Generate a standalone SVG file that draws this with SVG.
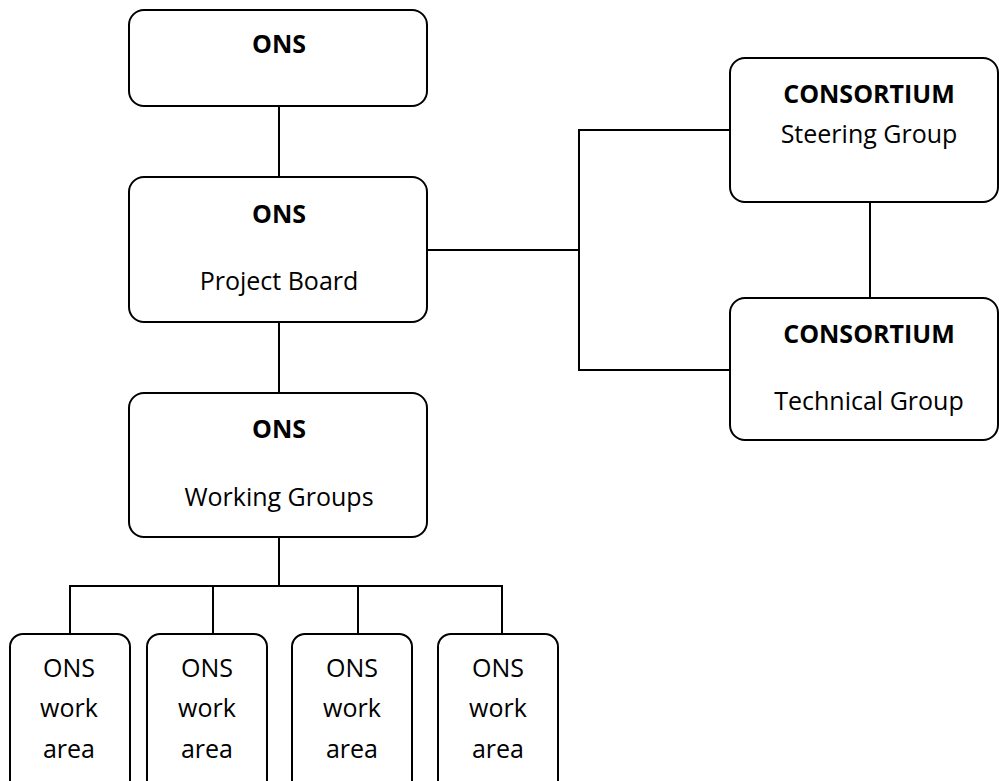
<svg xmlns="http://www.w3.org/2000/svg" width="999" height="781" viewBox="0 0 999 781">
<style>
.box{fill:#fff;stroke:#000;stroke-width:2}
.ln{fill:none;stroke:#000;stroke-width:2}
text{font-family:"Open Sans","Liberation Sans",sans-serif;font-size:25px;fill:#000;text-anchor:middle}
.b{font-weight:bold}
</style>
<rect width="999" height="781" fill="#fff"/>
<g id="connectors">
<line class="ln" x1="279" y1="106" x2="279" y2="177"/>
<line class="ln" x1="279" y1="322" x2="279" y2="393"/>
<polyline class="ln" points="427,250 579,250"/>
<polyline class="ln" points="730,130 579,130 579,370 730,370"/>
<line class="ln" x1="870" y1="202" x2="870" y2="298"/>
<line class="ln" x1="279" y1="537" x2="279" y2="586"/>
<polyline class="ln" points="70,634 70,586 502,586 502,634"/>
<line class="ln" x1="213" y1="586" x2="213" y2="634"/>
<line class="ln" x1="358" y1="586" x2="358" y2="634"/>
</g>
<g id="ons-top">
<rect class="box" x="129" y="10" width="298" height="96" rx="15"/>
<text class="b" x="279" y="53">ONS</text>
</g>
<g id="ons-project-board">
<rect class="box" x="129" y="177" width="298" height="145" rx="15"/>
<text class="b" x="279" y="223">ONS</text>
<text x="279" y="290">Project Board</text>
</g>
<g id="ons-working-groups">
<rect class="box" x="129" y="393" width="298" height="144" rx="15"/>
<text class="b" x="279" y="438">ONS</text>
<text x="279" y="506">Working Groups</text>
</g>
<g id="consortium-steering">
<rect class="box" x="730" y="58" width="268" height="144" rx="15"/>
<text class="b" x="869" y="103">CONSORTIUM</text>
<text x="869" y="143">Steering Group</text>
</g>
<g id="consortium-technical">
<rect class="box" x="730" y="298" width="268" height="142" rx="15"/>
<text class="b" x="869" y="343">CONSORTIUM</text>
<text x="869" y="410">Technical Group</text>
</g>
<g id="work-area-1">
<rect class="box" x="10" y="634" width="120" height="160" rx="13"/>
<text x="69" y="677">ONS</text><text x="69" y="717">work</text><text x="69" y="758">area</text>
</g>
<g id="work-area-2">
<rect class="box" x="147" y="634" width="120" height="160" rx="13"/>
<text x="207" y="677">ONS</text><text x="207" y="717">work</text><text x="207" y="758">area</text>
</g>
<g id="work-area-3">
<rect class="box" x="292" y="634" width="120" height="160" rx="13"/>
<text x="352" y="677">ONS</text><text x="352" y="717">work</text><text x="352" y="758">area</text>
</g>
<g id="work-area-4">
<rect class="box" x="438" y="634" width="120" height="160" rx="13"/>
<text x="498" y="677">ONS</text><text x="498" y="717">work</text><text x="498" y="758">area</text>
</g>
</svg>
